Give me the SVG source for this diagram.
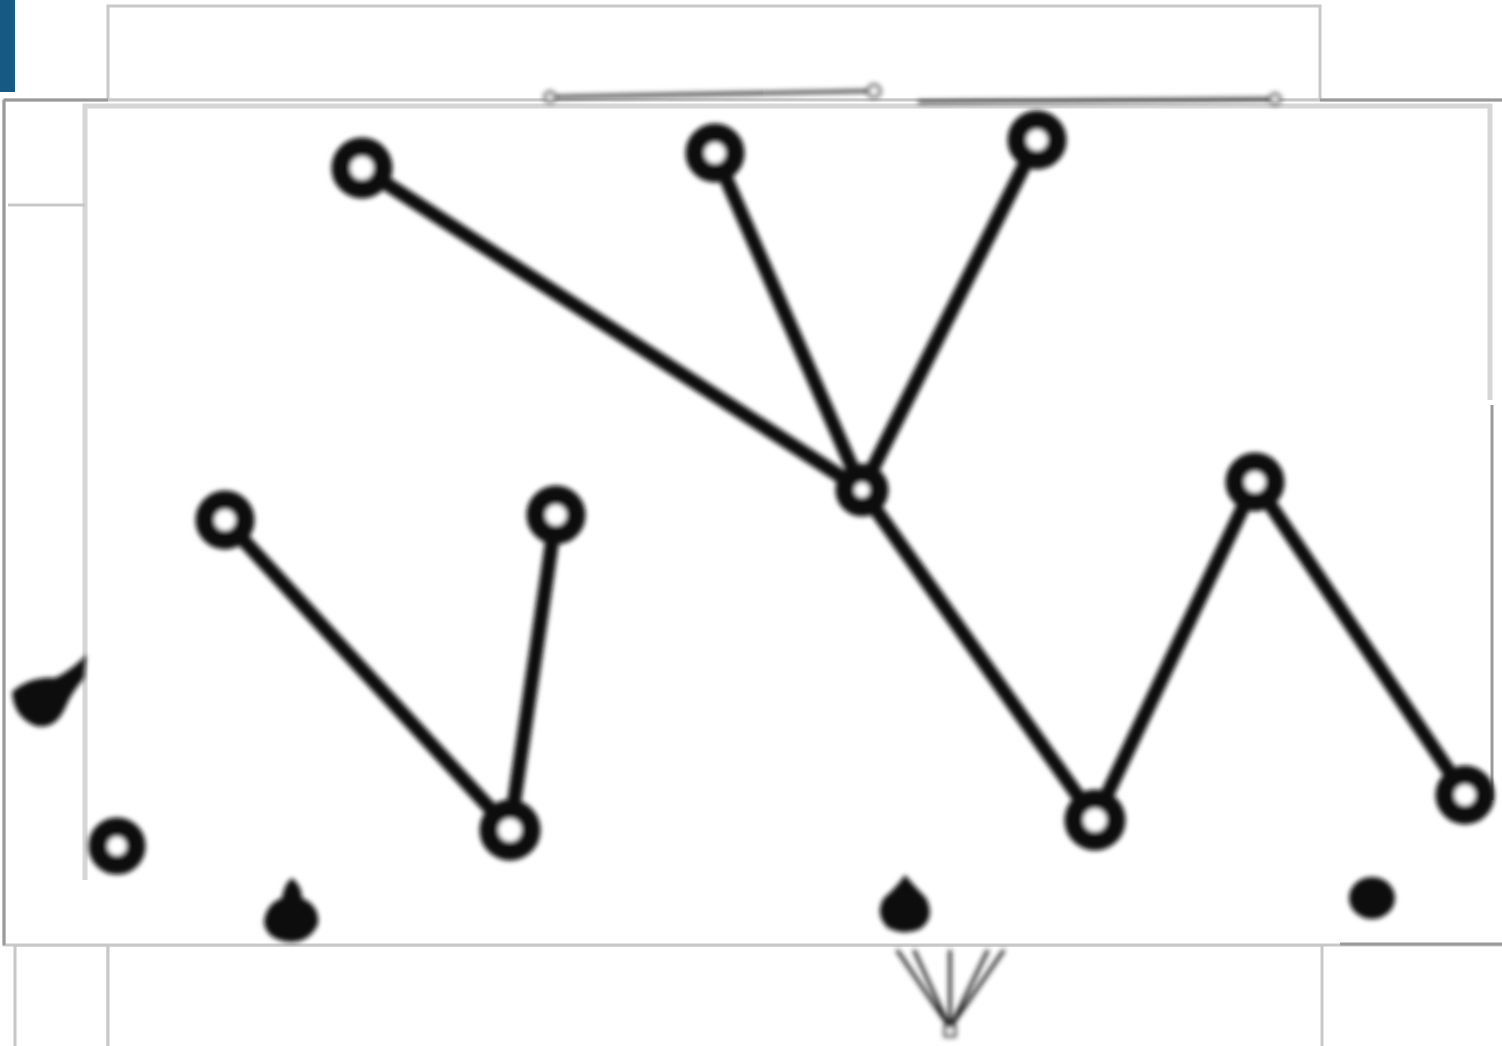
<svg xmlns="http://www.w3.org/2000/svg" width="1502" height="1046" viewBox="0 0 1502 1046">
<defs>
<style>
.panel{fill:#fff;stroke:#c8c8c8;stroke-width:3}
.panelD{fill:none;stroke:#9a9a9a;stroke-width:3}
.edge{stroke:#111;stroke-width:14;stroke-linecap:round;fill:none}
.ring{fill:#fff;stroke:#111;stroke-width:19}
.thin{stroke:#333;stroke-width:3.5;fill:none}
.fan{stroke:#222;stroke-width:3.5;fill:none}
.blob{fill:#111}
</style>
<filter id="soft" x="-5%" y="-5%" width="110%" height="110%"><feGaussianBlur stdDeviation="2.6"/></filter>
</defs>
<rect width="1502" height="1046" fill="#fff"/>
<g id="panels">
<rect x="0" y="0" width="15" height="92" fill="#165a83"/>
<rect class="panel" x="108" y="6" width="1212" height="94"/>
<rect class="panel" x="15" y="945" width="93" height="110"/>
<rect class="panel" x="108" y="945" width="1214" height="110"/>
<rect class="panel" x="4" y="100" width="1510" height="845"/>
<line class="panelD" x1="4" y1="100" x2="108" y2="100"/>
<line class="panelD" x1="1320" y1="100" x2="1502" y2="100"/>
<line class="panelD" x1="4" y1="100" x2="4" y2="945"/>
<line class="panelD" x1="1340" y1="944" x2="1502" y2="944"/>
<path d="M85 880 V106 H1490 V400" fill="none" stroke="#d6d6d6" stroke-width="5"/>
<line class="panel" x1="8" y1="205" x2="85" y2="205"/>
<line class="panelD" x1="1492" y1="405" x2="1492" y2="800"/>
</g>
<g filter="url(#soft)">
<g id="connectors">
<line class="edge" x1="362" y1="168" x2="862" y2="490"/>
<line class="edge" x1="715" y1="153" x2="862" y2="490"/>
<line class="edge" x1="1037" y1="140" x2="862" y2="490"/>
<line class="edge" x1="862" y1="490" x2="1095" y2="820"/>
<line class="edge" x1="1095" y1="820" x2="1255" y2="482"/>
<line class="edge" x1="1255" y1="482" x2="1465" y2="795"/>
<line class="edge" x1="225" y1="520" x2="510" y2="830"/>
<line class="edge" x1="556" y1="515" x2="510" y2="830"/>
<line class="thin" x1="552" y1="97" x2="872" y2="91"/>
<line class="thin" x1="918" y1="102" x2="1272" y2="99"/>
<line class="fan" x1="950" y1="1028" x2="897" y2="950"/>
<line class="fan" x1="950" y1="1028" x2="914" y2="950"/>
<line class="fan" x1="950" y1="1028" x2="950" y2="950"/>
<line class="fan" x1="950" y1="1028" x2="988" y2="950"/>
<line class="fan" x1="950" y1="1028" x2="1004" y2="950"/>
</g>
<g id="n1"><circle class="ring" cx="362" cy="168" r="21"/></g>
<g id="n2"><circle class="ring" cx="715" cy="153" r="20"/></g>
<g id="n3"><circle class="ring" cx="1037" cy="140" r="20"/></g>
<g id="n4"><circle class="ring" cx="862" cy="490" r="17" stroke-width="12" stroke="#333"/></g>
<g id="n5"><circle class="ring" cx="225" cy="520" r="20"/></g>
<g id="n6"><circle class="ring" cx="556" cy="515" r="20"/></g>
<g id="n7"><circle class="ring" cx="510" cy="830" r="21"/></g>
<g id="n8"><circle class="ring" cx="1095" cy="820" r="21"/></g>
<g id="n9"><circle class="ring" cx="1255" cy="482" r="20"/></g>
<g id="n10"><circle class="ring" cx="1465" cy="795" r="20"/></g>
<g id="n11"><circle class="ring" cx="117" cy="846" r="19"/></g>
<g id="t1"><circle cx="550" cy="97" r="5" fill="#fff" stroke="#333" stroke-width="3"/></g>
<g id="t2"><circle cx="874" cy="91" r="6" fill="#fff" stroke="#333" stroke-width="3"/></g>
<g id="t3"><circle cx="1275" cy="99" r="5" fill="#fff" stroke="#333" stroke-width="3"/></g>
<g id="t4"><rect x="945" y="1026" width="10" height="10" fill="#fff" stroke="#333" stroke-width="3"/></g>
<g id="b1"><path class="blob" d="M12 692 Q30 676 55 678 Q72 670 86 655 L84 678 Q72 692 66 706 Q56 730 36 726 Q14 718 12 692 Z"/></g>
<g id="b2"><path class="blob" d="M292 878 Q302 886 302 898 Q320 906 318 924 Q310 942 290 942 Q266 940 264 922 Q266 904 282 898 Q284 884 292 878 Z"/></g>
<g id="b3"><path class="blob" d="M905 875 Q916 888 926 898 Q936 918 920 929 Q905 936 888 928 Q874 914 884 898 Q896 888 905 875 Z"/></g>
<g id="b4"><ellipse class="blob" cx="1372" cy="898" rx="23" ry="21"/></g>
</g>
</svg>
